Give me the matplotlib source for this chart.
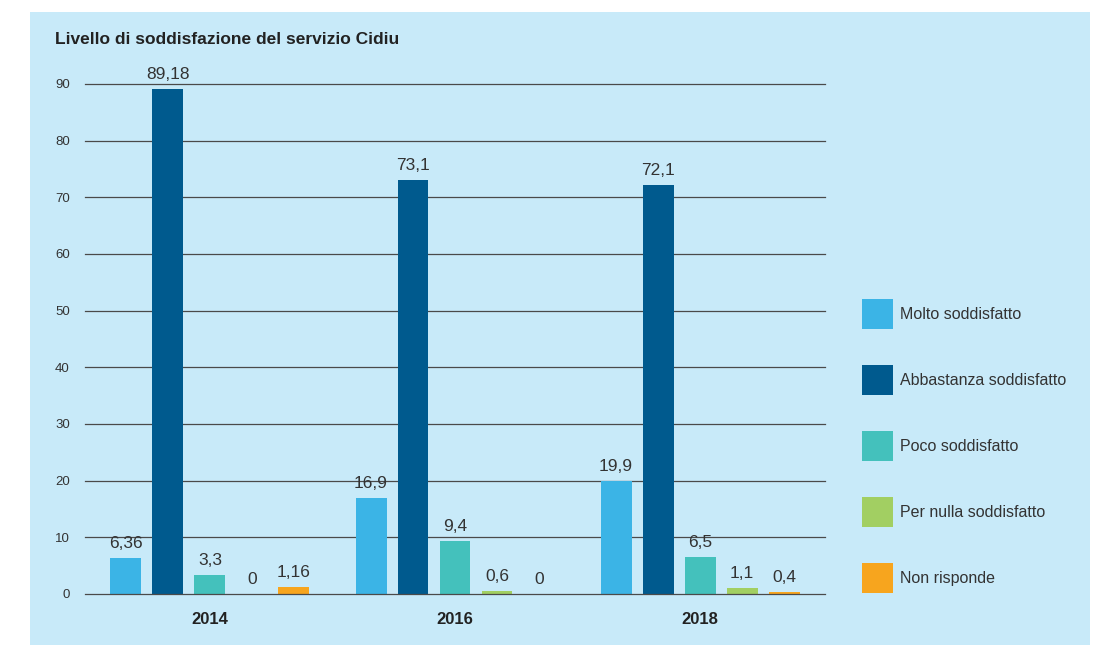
import numpy as np
import matplotlib
matplotlib.use("Agg")
import matplotlib.pyplot as plt
from matplotlib.patches import Rectangle, Patch

plt.rcParams['font.family'] = ['Liberation Sans', 'DejaVu Sans']

# Survey results per year (percent)
years = ['2014', '2016', '2018']
series_names = ['Molto soddisfatto', 'Abbastanza soddisfatto', 'Poco soddisfatto',
                'Per nulla soddisfatto', 'Non risponde']
molto = [6.36, 16.9, 19.9]
abbastanza = [89.18, 73.1, 72.1]
poco = [3.3, 9.4, 6.5]
per_nulla = [0, 0.6, 1.1]
non_risponde = [1.16, 0, 0.4]
yticks = [0, 10, 20, 30, 40, 50, 60, 70, 80, 90]

colors = ['#3BB4E6', '#005A8E', '#44C1BC', '#A2CF62', '#F7A51E']
panel_bg = '#C8EAF9'
W, H = 1110, 648

fig = plt.figure(figsize=(W / 100, H / 100), dpi=100, facecolor='white')
# light blue panel behind everything
fig.patches.append(Rectangle((30 / W, 3 / H), 1060 / W, 633 / H, transform=fig.transFigure,
                             facecolor=panel_bg, edgecolor='none', zorder=-5))

ax = fig.add_axes([85 / W, 54 / H, 740 / W, 510 / H])
ax.set_facecolor('none')

x = np.arange(len(years))
step = 0.1714
width = 0.1265
all_series = [molto, abbastanza, poco, per_nulla, non_risponde]
for i, (vals, col) in enumerate(zip(all_series, colors)):
    pos = x + (i - 2) * step
    ax.bar(pos, vals, width=width, color=col, zorder=3)
    for px, v in zip(pos, vals):
        lbl = f"{v:g}".replace('.', ',')
        ax.annotate(lbl, (px, v), xytext=(0, 5), textcoords='offset points',
                    ha='center', va='bottom', fontsize=12.5, color='#333333',
                    annotation_clip=False)

ax.set_xlim(-0.510, 2.510)
ax.set_ylim(0, 90)
ax.set_yticks(yticks)
ax.set_yticklabels([str(t) for t in yticks], fontsize=9.5, color='#333333')
ax.set_xticks(x)
ax.set_xticklabels(years, fontsize=12, fontweight='bold', color='#222222')
ax.tick_params(axis='y', length=0, pad=11)
ax.tick_params(axis='x', length=0, pad=13)
for t in yticks:
    ax.axhline(t, color='#4a4a4a', linewidth=0.9, zorder=1 if t else 4, clip_on=False)
for s in ax.spines.values():
    s.set_visible(False)

fig.text(55 / W, 1 - 40 / H, 'Livello di soddisfazione del servizio Cidiu',
         fontsize=12.5, fontweight='bold', color='#222222', va='center', ha='left')

handles = [Patch(facecolor=c, edgecolor='none') for c in colors]
fig.legend(handles, series_names, loc='upper left',
           bbox_to_anchor=(862 / W, 1 - 299 / H), borderaxespad=0, borderpad=0,
           frameon=False, fontsize=11.5, handlelength=1.94, handleheight=2.5,
           handletextpad=0.44, labelspacing=2.27, labelcolor='#333333')

fig.savefig('out.png', dpi=100, facecolor='white')
